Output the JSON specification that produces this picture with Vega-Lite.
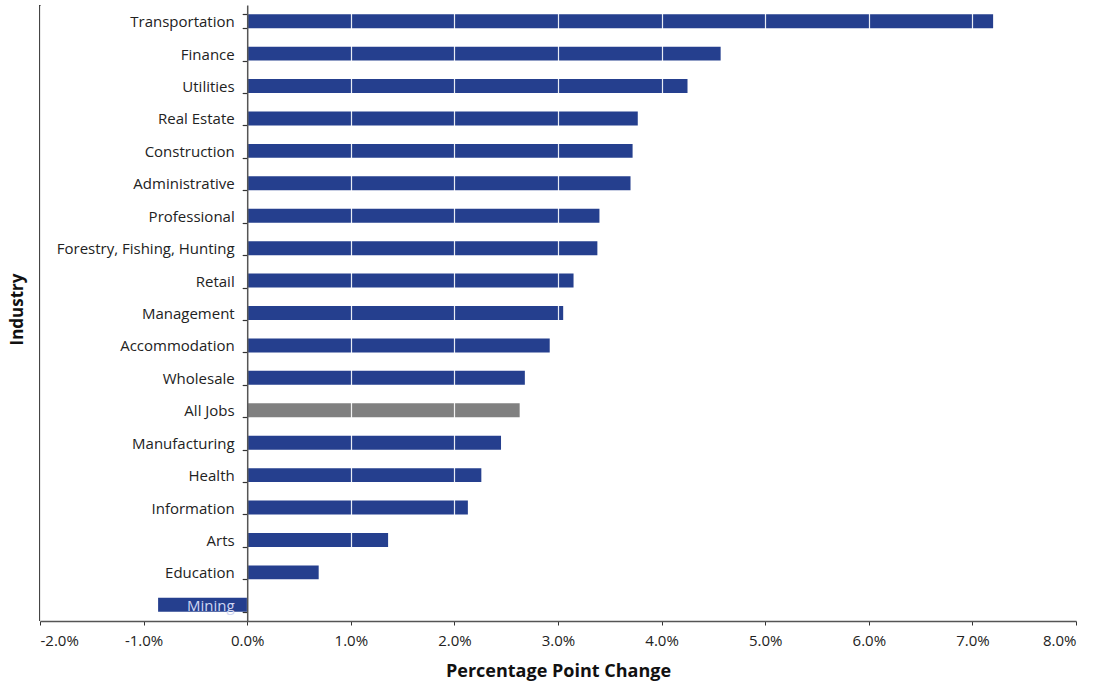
{
  "$schema": "https://vega.github.io/schema/vega-lite/v6.json",
  "width": 1036,
  "height": 616,
  "autosize": {"type": "none"},
  "padding": {"left": 40, "top": 5, "right": 18, "bottom": 65},
  "background": "white",
  "config": {
    "view": {"stroke": null},
    "font": "Open Sans"
  },
  "data": {
    "values": [
      {"industry": "Transportation", "change": 0.0720, "group": "industry"},
      {"industry": "Finance", "change": 0.0457, "group": "industry"},
      {"industry": "Utilities", "change": 0.0425, "group": "industry"},
      {"industry": "Real Estate", "change": 0.0377, "group": "industry"},
      {"industry": "Construction", "change": 0.0372, "group": "industry"},
      {"industry": "Administrative", "change": 0.0370, "group": "industry"},
      {"industry": "Professional", "change": 0.0340, "group": "industry"},
      {"industry": "Forestry, Fishing, Hunting", "change": 0.0338, "group": "industry"},
      {"industry": "Retail", "change": 0.0315, "group": "industry"},
      {"industry": "Management", "change": 0.0305, "group": "industry"},
      {"industry": "Accommodation", "change": 0.0292, "group": "industry"},
      {"industry": "Wholesale", "change": 0.0268, "group": "industry"},
      {"industry": "All Jobs", "change": 0.0263, "group": "all"},
      {"industry": "Manufacturing", "change": 0.0245, "group": "industry"},
      {"industry": "Health", "change": 0.0226, "group": "industry"},
      {"industry": "Information", "change": 0.0213, "group": "industry"},
      {"industry": "Arts", "change": 0.0136, "group": "industry"},
      {"industry": "Education", "change": 0.0069, "group": "industry"},
      {"industry": "Mining", "change": -0.0086, "group": "industry"}
    ]
  },
  "layer": [
    {
      "mark": {"type": "rule", "color": "#333333", "strokeWidth": 1.2},
      "encoding": {"x": {"datum": -0.02, "type": "quantitative", "scale": {"domain": [-0.02, 0.08]}}}
    },
    {
      "mark": {"type": "bar"},
      "encoding": {
        "y": {
          "field": "industry",
          "type": "nominal",
          "sort": null,
          "scale": {"paddingInner": 0.57, "paddingOuter": 0.285},
          "axis": {
            "offset": -207.2,
            "zindex": 2,
            "title": "Industry",
            "titleFontSize": 17,
            "titleFontWeight": "bold",
            "titleColor": "#111111",
            "titleX": -221,
            "titleY": 304,
            "domainColor": "#555555",
            "domainWidth": 1.5,
            "tickColor": "#333333",
            "tickSize": 5,
            "tickWidth": 1.2,
            "tickBand": "extent",
            "labelFontSize": 15,
            "labelPadding": 8,
            "labelOffset": 0.5,
            "labelColor": {"condition": {"test": "datum.value === 'Mining'", "value": "#d0d6f2"}, "value": "#222222"}
          }
        },
        "x": {
          "field": "change",
          "type": "quantitative",
          "scale": {"domain": [-0.02, 0.08], "nice": false},
          "axis": {
            "labelExpr": "replace(format(datum.value, '.1%'), '\u2212', '-')",
            "values": [-0.02, -0.01, 0, 0.01, 0.02, 0.03, 0.04, 0.05, 0.06, 0.07, 0.08],
            "zindex": 1,
            "grid": true,
            "gridColor": "#ffffff",
            "gridWidth": 1.2,
            "gridOpacity": 0.9,
            "title": "Percentage Point Change",
            "titleFontSize": 18,
            "titleFontWeight": "bold",
            "titleColor": "#111111",
            "titlePadding": 14,
            "domainColor": "#555555",
            "domainWidth": 1.5,
            "tickColor": "#333333",
            "tickSize": 4,
            "labelFontSize": 15,
            "labelColor": "#222222",
            "labelPadding": 8
          }
        },
        "color": {
          "field": "group",
          "type": "nominal",
          "scale": {"domain": ["industry", "all"], "range": ["#253f8e", "#808080"]},
          "legend": null
        }
      }
    }
  ]
}
